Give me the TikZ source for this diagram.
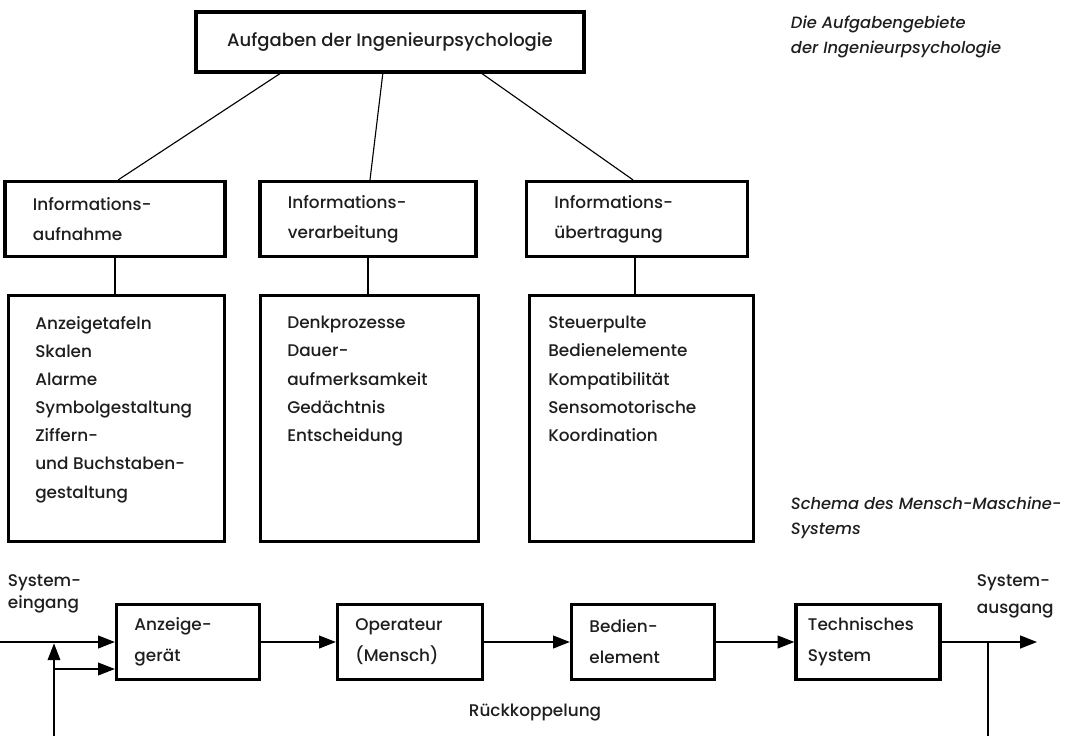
\documentclass[tikz,border=0pt]{standalone}
\usepackage{fontspec}
\setmainfont{Poppins}[UprightFont=* Medium, ItalicFont=* Medium Italic]
\usetikzlibrary{arrows.meta, positioning}
\definecolor{inktext}{RGB}{30, 30, 30}

\begin{document}
\begin{tikzpicture}[x=0.025cm, y=-0.025cm,
    font=\fontsize{12}{20}\selectfont, text=inktext,
    box/.style={draw, line width=2.3pt, inner sep=0pt},
    headbox/.style={box, minimum height=1.875cm, inner xsep=0.7cm, align=left, font=\fontsize{12}{21.5}\selectfont},
    flowbox/.style={box, minimum height=1.875cm, inner xsep=0.45cm, align=left, font=\fontsize{12}{22}\selectfont},
    listtext/.style={inner sep=0pt, anchor=north west, align=left},
    link/.style={line width=0.8pt},
    flow/.style={line width=1.1pt, -{Triangle[length=4.2mm, width=3.2mm]}},
    caption/.style={anchor=west, align=left, font=\fontsize{11.6}{18}\selectfont\itshape}]

  \useasboundingbox (0,0) rectangle (1065,736);

  % Main task box
  \node[box, minimum width=9.7cm, minimum height=1.5cm, font=\fontsize{12.8}{20}\selectfont] (task) at (390,42) {Aufgaben der Ingenieurpsychologie};

  % Side captions
  \node[caption] (capTop) at (786,37) {Die Aufgabengebiete\\der Ingenieurpsychologie};
  \node[caption] (capMms) at (786,518) {Schema des Mensch-Maschine-\\Systems};

  % Second level: the three fields
  \node[headbox, text width=4.1cm] (recv) at (115,219) {Informations-\\aufnahme};
  \node[headbox, text width=4.0cm] (proc) at (368,219) {Informations-\\verarbeitung};
  \node[headbox, text width=4.125cm] (send) at (637,219) {Informations-\\übertragung};

  % Lines from the task box down to the fields
  \draw[link] ([xshift=-2.75cm]task.south) -- ([xshift=0.08cm]recv.north);
  \draw[link] ([xshift=-0.18cm]task.south) -- ([xshift=0.05cm]proc.north);
  \draw[link] ([xshift=2.3cm]task.south) -- ([xshift=-0.1cm]send.north);

  % Third level: tall boxes with the topics
  \node[box, anchor=north west, minimum width=5.4cm, minimum height=6.15cm] (recvList) at (7,294) {};
  \node[box, anchor=north west, minimum width=5.45cm, minimum height=6.15cm] (procList) at (259,294) {};
  \node[box, anchor=north west, minimum width=5.6cm, minimum height=6.15cm] (sendList) at (528,294) {};

  \node[listtext] (recvItems) at ([xshift=0.7cm, yshift=-0.55cm]recvList.north west)
    {Anzeigetafeln\\Skalen\\Alarme\\Symbolgestaltung\\Ziffern-\\und Buchstaben-\\gestaltung};
  \node[listtext] (procItems) at ([xshift=0.7cm, yshift=-0.55cm]procList.north west)
    {Denkprozesse\\Dauer-\\aufmerksamkeit\\Gedächtnis\\Entscheidung};
  \node[listtext] (sendItems) at ([xshift=0.5cm, yshift=-0.55cm]sendList.north west)
    {Steuerpulte\\Bedienelemente\\Kompatibilität\\Sensomotorische\\Koordination};

  \draw[link] (recv.south) -- (recv.south |- recvList.north);
  \draw[link] (proc.south) -- (proc.south |- procList.north);
  \draw[link] ([xshift=-0.05cm]send.south) -- ([xshift=-0.05cm]send.south |- sendList.north);

  % Man-machine loop
  \node[flowbox, text width=2.675cm] (display) at (188,642) {Anzeige-\\gerät};
  \node[flowbox, text width=2.725cm] (operator) at (410,642) {Operateur\\(Mensch)};
  \node[flowbox, text width=2.675cm] (control) at (643,642) {Bedien-\\element};
  \node[flowbox, text width=3.0cm, inner xsep=0.3cm] (machine) at (868,642) {Technisches\\System};

  \node[anchor=west, align=left, font=\fontsize{12}{16}\selectfont] (inLabel) at (3,594) {System-\\eingang};
  \node[anchor=west, align=left, font=\fontsize{12}{19}\selectfont] (outLabel) at (972,596) {System-\\ausgang};
  \node (loopLabel) at (535,713) {Rückkoppelung};

  \coordinate (in) at (0,642);
  \coordinate (out) at (1037,642);
  \coordinate (fbLeft) at (54,736);
  \coordinate (fbRight) at (988,736);
  \coordinate (fbBranch) at (54,669);

  \draw[flow] (in) -- (display.west);
  \draw[flow] (display.east) -- (operator.west);
  \draw[flow] (operator.east) -- (control.west);
  \draw[flow] (control.east) -- (machine.west);
  \draw[flow] (machine.east) -- (out);

  % Feedback (cut off at the lower edge)
  \draw[link] (fbRight |- out) -- (fbRight);
  \draw[flow, line width=0.8pt] (fbLeft) -- ([yshift=-1pt]fbLeft |- in);
  \draw[flow, line width=0.8pt] (fbBranch) -- (fbBranch -| display.west);
\end{tikzpicture}
\end{document}
